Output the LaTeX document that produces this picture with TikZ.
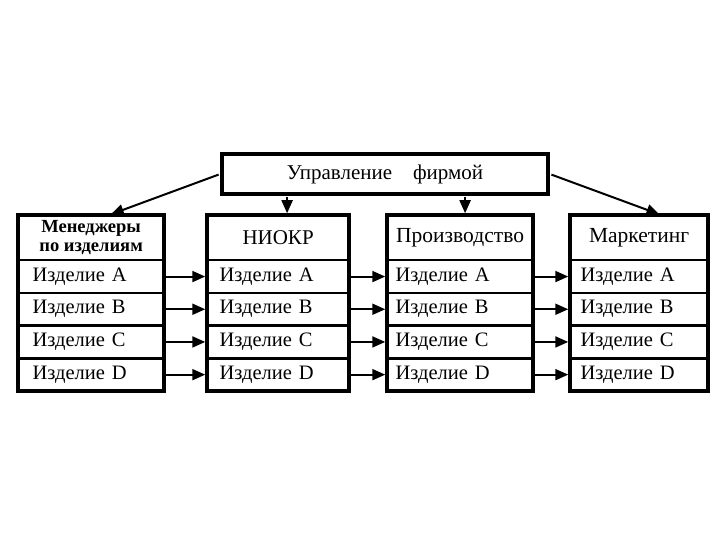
\documentclass[tikz,border=0pt]{standalone}
\usepackage{fontspec}
\setmainfont{Liberation Serif}
\usetikzlibrary{positioning,arrows.meta}

\tikzset{
  boss/.style={draw, line width=3.5pt, minimum width=326pt, minimum height=40pt, inner sep=0pt, font=\fontsize{21}{23}\selectfont},
  head/.style 2 args={draw, line width=1.2pt, anchor=north west, minimum width=#1pt, minimum height=44pt, inner sep=0pt, align=center, font=#2},
  cell/.style 2 args={draw, line width=1.2pt, below=0pt of #1, text width=#2, minimum height=31.5pt, inner ysep=0pt, align=left, font=\fontsize{20.5}{22}\selectfont},
  frame/.style={line width=3.5pt},
  link/.style={-{Triangle[length=13pt,width=11pt]}, line width=2pt, shorten <=1.75pt, shorten >=1.75pt}
}

\begin{document}
\begin{tikzpicture}[x=1pt, y=-1pt]
\useasboundingbox (0,0) rectangle (720,540);

\node (top) [boss] at (385,174) {Управление\quad фирмой};

% managers
\node (m0) [head={145}{\bfseries\fontsize{18.5}{18.5}\selectfont}] at (18,215) {Менеджеры\\по изделиям};
\node (m1) [cell={m0}{117pt}, inner xsep=14pt] {Изделие A};
\node (m2) [cell={m1}{117pt}, inner xsep=14pt] {Изделие B};
\node (m3) [cell={m2}{117pt}, inner xsep=14pt] {Изделие C};
\node (m4) [cell={m3}{117pt}, inner xsep=14pt] {Изделие D};
\draw[frame] (m0.north west) rectangle (m4.south east);

% R&D
\node (n0) [head={141}{\fontsize{21}{23}\selectfont}] at (207,215) {НИОКР};
\node (n1) [cell={n0}{117pt}, inner xsep=12pt] {Изделие A};
\node (n2) [cell={n1}{117pt}, inner xsep=12pt] {Изделие B};
\node (n3) [cell={n2}{117pt}, inner xsep=12pt] {Изделие C};
\node (n4) [cell={n3}{117pt}, inner xsep=12pt] {Изделие D};
\draw[frame] (n0.north west) rectangle (n4.south east);

% production
\node (p0) [head={145}{\fontsize{21.5}{23}\selectfont}] at (387,215) {Производство};
\node (p1) [cell={p0}{129pt}, inner xsep=8pt] {Изделие A};
\node (p2) [cell={p1}{129pt}, inner xsep=8pt] {Изделие B};
\node (p3) [cell={p2}{129pt}, inner xsep=8pt] {Изделие C};
\node (p4) [cell={p3}{129pt}, inner xsep=8pt] {Изделие D};
\draw[frame] (p0.north west) rectangle (p4.south east);

% marketing
\node (k0) [head={137}{\fontsize{21.5}{23}\selectfont}] at (570,215) {Маркетинг};
\node (k1) [cell={k0}{117pt}, inner xsep=10pt] {Изделие A};
\node (k2) [cell={k1}{117pt}, inner xsep=10pt] {Изделие B};
\node (k3) [cell={k2}{117pt}, inner xsep=10pt] {Изделие C};
\node (k4) [cell={k3}{117pt}, inner xsep=10pt] {Изделие D};
\draw[frame] (k0.north west) rectangle (k4.south east);

\draw[link] (top.west) -- ([xshift=18pt]m0.north);
\draw[link] ([xshift=9pt]n0.north |- top.south) -- ([xshift=9pt]n0.north);
\draw[link] ([xshift=5pt]p0.north |- top.south) -- ([xshift=5pt]p0.north);
\draw[link] (top.east) -- ([xshift=22pt]k0.north);

\foreach \i in {1,...,4} {
  \draw[link] (m\i.east) -- (n\i.west);
  \draw[link] (n\i.east) -- (p\i.west);
  \draw[link] (p\i.east) -- (k\i.west);
}
\end{tikzpicture}
\end{document}
